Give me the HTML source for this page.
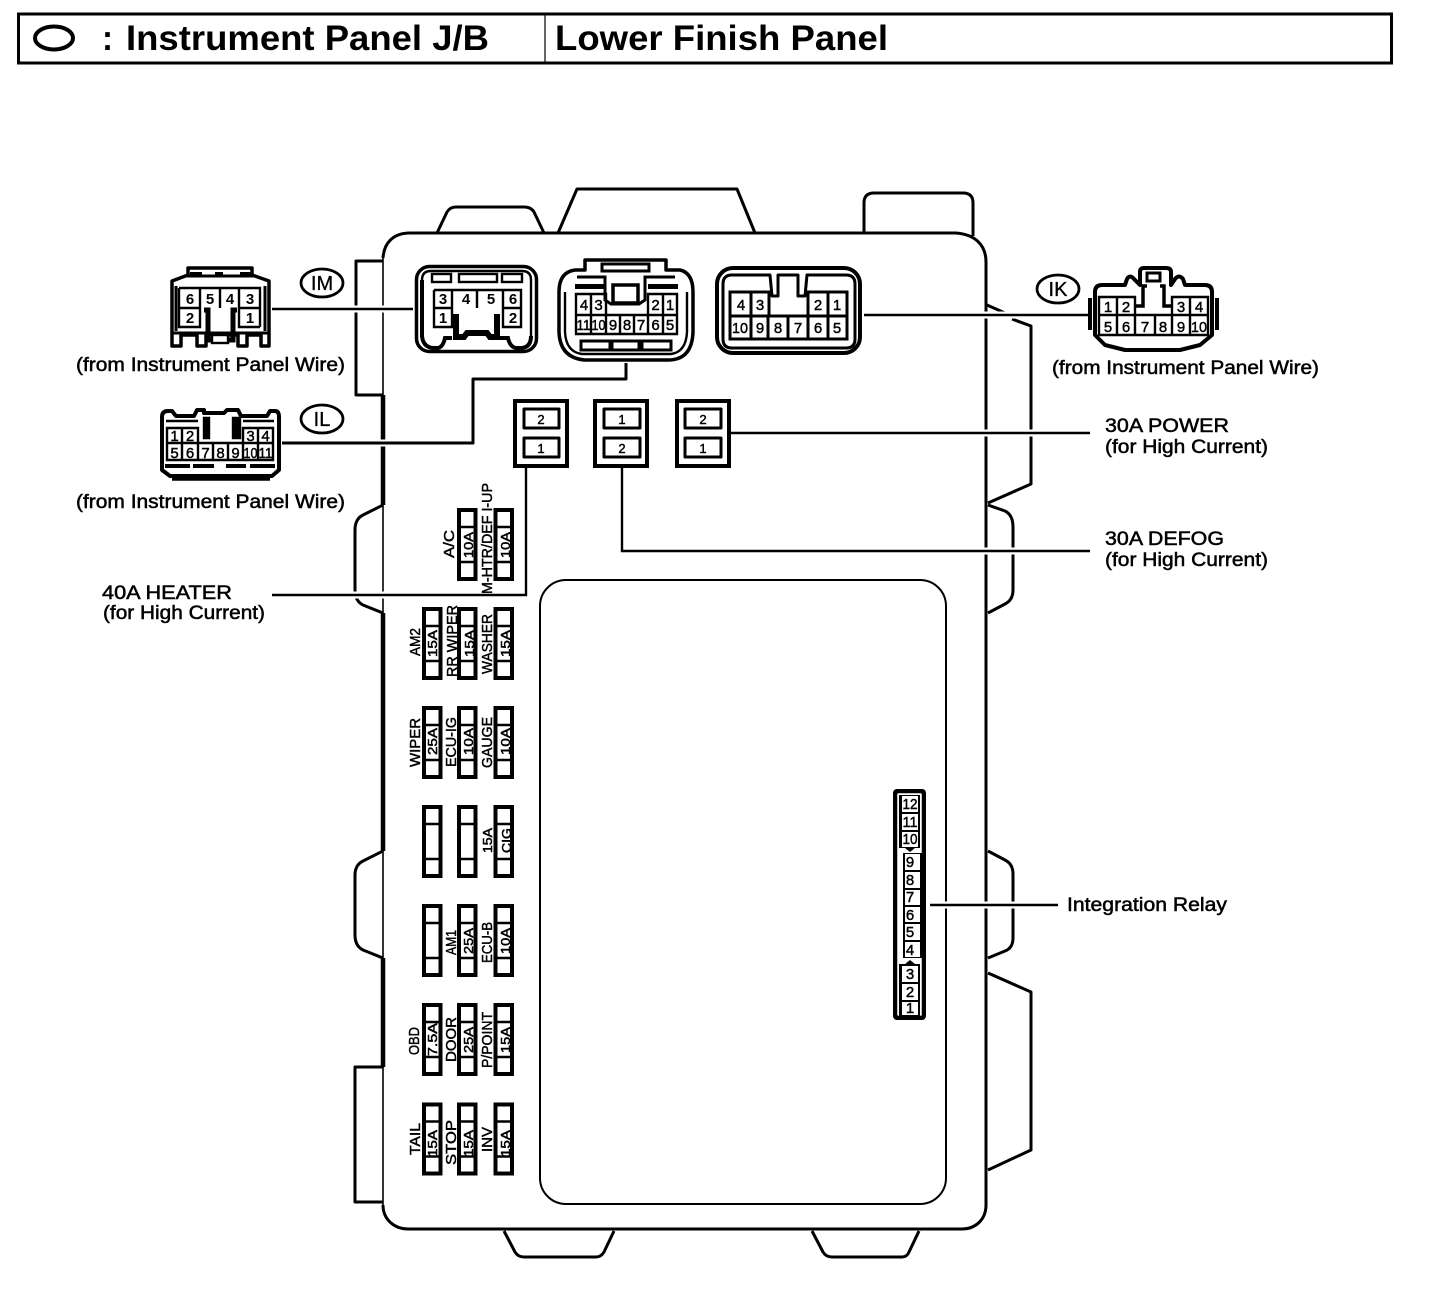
<!DOCTYPE html>
<html><head><meta charset="utf-8"><style>
html,body{margin:0;padding:0;background:#fff}
svg{display:block}
text{font-family:"Liberation Sans",Arial,sans-serif;fill:#000}
.l{font-size:19px;stroke:#000;stroke-width:.5}
.n{font-size:15px;font-weight:bold;text-anchor:middle}
.s{font-size:13px;stroke:#000;stroke-width:.45;text-anchor:middle}
.r{font-size:15px;stroke:#000;stroke-width:.45;text-anchor:middle}
.a{font-size:15px;stroke:#000;stroke-width:.45}
.m{font-size:12.5px;stroke:#000;stroke-width:.5}
.k{fill:none;stroke:#000;stroke-width:3;stroke-linejoin:round}
.t{fill:none;stroke:#000;stroke-width:2.4}
.b{fill:#fff;stroke:#000;stroke-width:4}
.h{fill:none;stroke:#fff;stroke-width:7}
</style></head><body>
<svg width="1440" height="1308" viewBox="0 0 1440 1308" xmlns="http://www.w3.org/2000/svg">
<defs>
<g id="f"><rect x=".5" y=".5" width="16.5" height="69" fill="#fff" stroke="#000" stroke-width="4"/><path d="M0,17.5H17.5M0,52.5H17.5" stroke="#000" stroke-width="2.4"/></g>
</defs>
<rect width="1440" height="1308" fill="#fff"/>

<!-- header -->
<rect x="18.5" y="14" width="1373" height="49" fill="none" stroke="#000" stroke-width="3"/>
<line x1="545" y1="14" x2="545" y2="63" stroke="#000" stroke-width="1.2"/>
<ellipse cx="54" cy="38" rx="19" ry="11.5" fill="none" stroke="#000" stroke-width="4"/>
<text x="102" y="50" font-size="35" font-weight="bold" textLength="11" lengthAdjust="spacingAndGlyphs">:</text>
<text x="126" y="50" font-size="35" font-weight="bold" textLength="363" lengthAdjust="spacingAndGlyphs">Instrument Panel J/B</text>
<text x="555" y="50" font-size="35" font-weight="bold" textLength="333" lengthAdjust="spacingAndGlyphs">Lower Finish Panel</text>

<!-- top tabs -->
<path class="k" d="M437,233L447,212Q450,207 456,207H524Q531,207 534,212L544,233"/>
<path class="k" d="M558,233L577,189H737L755,233"/>
<path class="k" d="M864,233V203Q864,193 874,193H963Q973,193 973,203V236"/>
<!-- bottom tabs -->
<path class="k" d="M504,1231L515,1252Q518,1257 524,1257H596Q601,1257 604,1252L614,1231"/>
<path class="k" d="M812,1231L823,1252Q826,1257 832,1257H902Q907,1257 909,1252L919,1231"/>
<!-- body -->
<path class="k" d="M383,258C384,243 393,233 410,233H955C975,234 986,245 986,262V1205C986,1220 975,1229 962,1229H408C395,1229 383,1220 383,1205" />
<line x1="383" y1="258" x2="383" y2="1205" stroke="#000" stroke-width="1.6"/>
<path d="M383,395V505M383,613V851M383,958V1067" stroke="#000" stroke-width="4.5" fill="none"/>
<!-- left tabs -->
<path class="k" d="M383,261H356V395H383"/>
<path class="k" d="M383,505L363,515Q355,519 355,530V590Q355,601 363,605L383,613"/>
<path class="k" d="M383,851L363,861Q355,865 355,875V935Q355,946 363,950L383,958"/>
<path class="k" d="M383,1067H355V1202H383"/>
<!-- right tabs -->
<path class="k" d="M987,305L1005,313M1012,319L1031,326V484L988,503"/>
<path class="k" d="M988,505L1005,511Q1013,515 1013,527V590Q1013,600 1005,604L988,613"/>
<path class="k" d="M988,851L1005,860Q1013,864 1013,874V938Q1013,948 1005,951L988,958"/>
<path class="k" d="M988,973L1031,992V1150L988,1170"/>
<!-- inner panel -->
<rect x="540" y="580" width="406" height="624" rx="26" fill="#fff" stroke="#000" stroke-width="2"/>

<!-- leader halos -->
<path class="h" d="M272,309H413M282,443H473M864,315H1090M729,433H1090M622,551H1090M272,595H526M930,905H1058"/>
<!-- leaders -->
<path class="t" d="M272,309H413"/>
<path class="k" d="M282,443H473V379H626V363"/>
<path class="t" d="M864,315H1090"/>
<path class="t" d="M729,433H1090"/>
<path class="t" d="M622,467V551H1090"/>
<path class="t" d="M272,595H526V468"/>
<path class="t" d="M930,905H1058"/>

<!-- relay boxes -->
<rect class="b" x="515" y="401" width="52" height="65"/>
<rect class="k" x="524" y="409" width="35" height="19"/><rect class="k" x="524" y="438" width="35" height="19"/>
<text class="s" x="541" y="424">2</text><text class="s" x="541" y="453">1</text>
<rect class="b" x="595" y="401" width="52" height="65"/>
<rect class="k" x="604" y="409" width="36" height="19"/><rect class="k" x="604" y="438" width="36" height="19"/>
<text class="s" x="622" y="424">1</text><text class="s" x="622" y="453">2</text>
<rect class="b" x="677" y="401" width="52" height="65"/>
<rect class="k" x="685" y="409" width="36" height="19"/><rect class="k" x="685" y="438" width="36" height="19"/>
<text class="s" x="703" y="424">2</text><text class="s" x="703" y="453">1</text>

<!-- IM left connector -->
<path d="M172,281L188,275V268H252V275L269,281V346H261V335H247V346H238V335H206V346H197V335H181V346H172Z" fill="#fff" stroke="#000" stroke-width="3.5" stroke-linejoin="round"/>
<path class="k" d="M176,286V331M265,286V331M184,276H256M172,333H269"/>
<path d="M190,272h12v5h-12zM215,272h8v5h-8zM240,272h12v5h-12z" fill="#000"/>
<path d="M179,288H260V308H239V327H260M260,288V327M239,308V327M179,288V327H200V308H179M200,288V308M220,288V308M239,288V308" fill="none" stroke="#000" stroke-width="2.400"/>
<path d="M204,310H208V340H233V310H237" fill="none" stroke="#000" stroke-width="5"/>
<rect x="212" y="335" width="16" height="8" fill="#fff" stroke="#000" stroke-width="2.400"/>
<text class="n" x="190" y="304">6</text><text class="n" x="210" y="304">5</text><text class="n" x="230" y="304">4</text><text class="n" x="250" y="304">3</text>
<text class="n" x="190" y="323">2</text><text class="n" x="250" y="323">1</text>

<!-- IL left connector -->
<path d="M162,417Q162,411 168,411H172L176,416H194L197,410H204V413H224L227,410H238L241,416H267L270,411H275Q279,411 279,417V470L272,476H170L162,470Z" fill="#fff" stroke="#000" stroke-width="4" stroke-linejoin="round"/>
<path d="M172,479H270" stroke="#000" stroke-width="3.500"/>
<path d="M167,428H198V443H167ZM182,428V443M243,428H273V443H243ZM258,428V443M167,443H273V460H167ZM182,443V460M198,443V460M213,443V460M228,443V460M243,443V460M258,443V460" fill="none" stroke="#000" stroke-width="2.400"/>
<path d="M204,418V438H209V418ZM233,418V438H240V418Z" fill="#000" stroke="#000" stroke-width="2.400"/>
<path d="M165,466H190M193,466H214M226,466H246M250,466H275" stroke="#000" stroke-width="4"/>
<path d="M166,421H198M243,421H274" stroke="#000" stroke-width="2.400"/>
<text class="r" x="174.500" y="441">1</text><text class="r" x="190" y="441">2</text><text class="r" x="250.500" y="441">3</text><text class="r" x="265.500" y="441">4</text>
<text class="r" x="174.500" y="458">5</text><text class="r" x="190" y="458">6</text><text class="r" x="205.500" y="458">7</text><text class="r" x="220.500" y="458">8</text><text class="r" x="235.500" y="458">9</text><text class="r" x="250.500" y="458" textLength="14" lengthAdjust="spacingAndGlyphs">10</text><text class="r" x="265.500" y="458" textLength="14" lengthAdjust="spacingAndGlyphs">11</text>

<!-- IM panel connector -->
<rect x="416.500" y="266.500" width="120" height="85" rx="13" fill="#fff" stroke="#000" stroke-width="3.500"/>
<path d="M422,280Q422,271 431,271H522Q531,271 531,280V336" fill="none" stroke="#000" stroke-width="2.400"/>
<path d="M422,280V336Q423,347 433,348H438Q443,347 445,338H452M500,338H508Q510,347 516,348H522Q531,347 531,336" fill="none" stroke="#000" stroke-width="4"/>
<rect x="432" y="274" width="19" height="8" fill="none" stroke="#000" stroke-width="2.400"/>
<rect x="459" y="274" width="38" height="8" fill="none" stroke="#000" stroke-width="2.400"/>
<rect x="502" y="274" width="20" height="8" fill="none" stroke="#000" stroke-width="2.400"/>
<path d="M434,290H521V308H503V327H521V290M434,290V327H452V308H434M452,290V308M477,290V308M503,290V308" fill="none" stroke="#000" stroke-width="2.400"/>
<path d="M456,314V337H464L467,333H487L490,337H497V314" fill="none" stroke="#000" stroke-width="6"/>
<text class="n" x="443" y="304" font-size="14">3</text><text class="n" x="466" y="304">4</text><text class="n" x="491" y="304">5</text><text class="n" x="513" y="304">6</text>
<text class="n" x="443" y="323">1</text><text class="n" x="513" y="323">2</text>

<!-- center connector -->
<path d="M585,270V260H666V270H680Q693,273 693,292V332Q692,360 668,360H585Q560,358 559,332V292Q559,272 575,270Z" fill="#fff" stroke="#000" stroke-width="3.500" stroke-linejoin="round"/>
<path d="M565,292V332Q566,352 582,354H671Q686,352 687,332V292" fill="none" stroke="#000" stroke-width="2.400"/>
<rect x="602" y="264" width="47" height="7" fill="none" stroke="#000" stroke-width="3"/>
<path d="M577,277H605V300L611,304H639L645,300V277H675" fill="none" stroke="#000" stroke-width="3"/>
<rect x="575" y="284" width="30" height="5" fill="#000"/><rect x="648" y="284" width="30" height="5" fill="#000"/>
<rect x="613" y="285" width="25" height="18" fill="none" stroke="#000" stroke-width="3.500"/>
<path d="M576,294H606V315H576ZM591,294V315M648,294H677V315H648ZM663,294V315M576,315H677V334H576ZM591,315V334M606,315V334M620,315V334M634,315V334M648,315V334M663,315V334" fill="none" stroke="#000" stroke-width="2.400"/>
<rect x="581" y="341" width="29" height="9" fill="#fff" stroke="#000" stroke-width="3"/><rect x="612" y="341" width="27" height="9" fill="#fff" stroke="#000" stroke-width="3"/><rect x="642" y="341" width="29" height="9" fill="#fff" stroke="#000" stroke-width="3"/>
<text class="r" x="584" y="310">4</text><text class="r" x="598.500" y="310">3</text><text class="r" x="655.500" y="310">2</text><text class="r" x="670" y="310">1</text>
<text class="r" x="583.500" y="330" textLength="14" lengthAdjust="spacingAndGlyphs">11</text><text class="r" x="598.500" y="330" textLength="14" lengthAdjust="spacingAndGlyphs">10</text><text class="r" x="613" y="330">9</text><text class="r" x="627" y="330">8</text><text class="r" x="641" y="330">7</text><text class="r" x="655.500" y="330">6</text><text class="r" x="670" y="330">5</text>

<!-- right connector -->
<rect x="717" y="268" width="143" height="85" rx="16" fill="#fff" stroke="#000" stroke-width="4"/>
<path d="M723,284Q723,275 732,275H770L772,296H778V275H798V296H805L807,275H846Q855,275 855,284V339Q855,348 846,348H732Q723,348 723,339Z" fill="none" stroke="#000" stroke-width="3" stroke-linejoin="round"/>
<path d="M730,292H769V316H730ZM751,292V316M808,292H847V316H808ZM828,292V316M730,316H847V339H730ZM751,316V339M768,316V339M788,316V339M808,316V339M828,316V339" fill="none" stroke="#000" stroke-width="3"/>
<text class="r" x="741" y="310">4</text><text class="r" x="760" y="310">3</text><text class="r" x="818" y="310">2</text><text class="r" x="837" y="310">1</text>
<text class="r" x="740" y="333" textLength="16" lengthAdjust="spacingAndGlyphs">10</text><text class="r" x="760" y="333">9</text><text class="r" x="778" y="333">8</text><text class="r" x="798" y="333">7</text><text class="r" x="818" y="333">6</text><text class="r" x="837" y="333">5</text>

<!-- IK connector -->
<path d="M1095,292Q1095,285 1102,285H1125L1127,279Q1130,274 1134,279L1140,285V272Q1140,268 1144,268H1166Q1171,268 1171,272V285L1175,279Q1179,274 1183,279L1185,285H1205Q1212,285 1212,292V335L1200,345L1180,350H1125L1105,345L1095,335Z" fill="#fff" stroke="#000" stroke-width="4" stroke-linejoin="round"/>
<path d="M1090,298V330M1217,298V330" stroke="#000" stroke-width="4" fill="none"/>
<path d="M1099,297H1135V315H1099ZM1117,297V315M1172,297H1208V315H1172ZM1190,297V315M1099,315H1208V335H1099ZM1117,315V335M1135,315V335M1155,315V335M1172,315V335M1190,315V335" fill="none" stroke="#000" stroke-width="2.400"/>
<path d="M1135,306H1143V286H1147M1172,306H1164V286H1160" fill="none" stroke="#000" stroke-width="3.500"/>
<rect x="1147" y="273" width="13" height="8" fill="none" stroke="#000" stroke-width="3"/>
<text class="r" x="1108" y="312">1</text><text class="r" x="1126" y="312">2</text><text class="r" x="1181" y="312">3</text><text class="r" x="1199" y="312">4</text>
<text class="r" x="1108" y="332">5</text><text class="r" x="1126" y="332">6</text><text class="r" x="1145" y="332">7</text><text class="r" x="1163" y="332">8</text><text class="r" x="1181" y="332">9</text><text class="r" x="1199" y="332" textLength="16" lengthAdjust="spacingAndGlyphs">10</text>

<!-- integration relay connector -->
<rect x="893" y="789" width="33" height="231" rx="4" fill="#000"/>
<rect x="896.500" y="792.500" width="26" height="224" rx="2" fill="#fff" stroke="#000" stroke-width="1.500"/>
<path d="M899,795V848H905L910,852L915,848H920V795M899,964H905L910,960L915,964H920V1016H899Z" fill="#000"/>
<path d="M903,853H922V958H903Z" fill="#000"/>
<g fill="#fff">
<rect x="902" y="796" width="16" height="16"/><rect x="902" y="814" width="16" height="16"/><rect x="902" y="832" width="16" height="15"/>
<rect x="905" y="854" width="15" height="16"/><rect x="905" y="872" width="15" height="16"/><rect x="905" y="890" width="15" height="15"/><rect x="905" y="907" width="15" height="15"/><rect x="905" y="924" width="15" height="16"/><rect x="905" y="942" width="15" height="15"/>
<rect x="902" y="966" width="16" height="16"/><rect x="902" y="984" width="16" height="16"/><rect x="902" y="1002" width="16" height="13"/>
</g>
<text class="r" x="910" y="809" textLength="15" lengthAdjust="spacingAndGlyphs">12</text>
<text class="r" x="910" y="827" textLength="15" lengthAdjust="spacingAndGlyphs">11</text>
<text class="r" x="910" y="844" textLength="15" lengthAdjust="spacingAndGlyphs">10</text>
<text class="r" x="910" y="867">9</text>
<text class="r" x="910" y="885">8</text>
<text class="r" x="910" y="902">7</text>
<text class="r" x="910" y="920">6</text>
<text class="r" x="910" y="937">5</text>
<text class="r" x="910" y="955">4</text>
<text class="r" x="910" y="979">3</text>
<text class="r" x="910" y="997">2</text>
<text class="r" x="910" y="1013">1</text>

<!-- fuses -->
<use href="#f" x="458.500" y="509.500"/><use href="#f" x="495" y="509.500"/>
<use href="#f" x="423.500" y="608.500"/><use href="#f" x="458.500" y="608.500"/><use href="#f" x="495" y="608.500"/>
<use href="#f" x="423.500" y="707.500"/><use href="#f" x="458.500" y="707.500"/><use href="#f" x="495" y="707.500"/>
<use href="#f" x="423.500" y="806.500"/><use href="#f" x="458.500" y="806.500"/><use href="#f" x="495" y="806.500"/>
<use href="#f" x="423.500" y="905.500"/><use href="#f" x="458.500" y="905.500"/><use href="#f" x="495" y="905.500"/>
<use href="#f" x="423.500" y="1004.500"/><use href="#f" x="458.500" y="1004.500"/><use href="#f" x="495" y="1004.500"/>
<use href="#f" x="423.500" y="1104"/><use href="#f" x="458.500" y="1104"/><use href="#f" x="495" y="1104"/>

<!-- fuse labels -->
<text class="a" transform="translate(454,558) rotate(-90)" textLength="28" lengthAdjust="spacingAndGlyphs">A/C</text>
<text class="m" transform="translate(473,558) rotate(-90)" textLength="26" lengthAdjust="spacingAndGlyphs">10A</text>
<text class="a" transform="translate(492,594) rotate(-90)" textLength="111" lengthAdjust="spacingAndGlyphs">M-HTR/DEF I-UP</text>
<text class="m" transform="translate(510,558) rotate(-90)" textLength="26" lengthAdjust="spacingAndGlyphs">10A</text>

<text class="a" transform="translate(420,656) rotate(-90)" textLength="28" lengthAdjust="spacingAndGlyphs">AM2</text>
<text class="m" transform="translate(437,657) rotate(-90)" textLength="27" lengthAdjust="spacingAndGlyphs">15A</text>
<text class="a" transform="translate(457,677) rotate(-90)" textLength="72" lengthAdjust="spacingAndGlyphs">RR WIPER</text>
<text class="m" transform="translate(474,657) rotate(-90)" textLength="27" lengthAdjust="spacingAndGlyphs">15A</text>
<text class="a" transform="translate(492,674) rotate(-90)" textLength="60" lengthAdjust="spacingAndGlyphs">WASHER</text>
<text class="m" transform="translate(510,657) rotate(-90)" textLength="27" lengthAdjust="spacingAndGlyphs">15A</text>

<text class="a" transform="translate(420,767) rotate(-90)" textLength="49" lengthAdjust="spacingAndGlyphs">WIPER</text>
<text class="m" transform="translate(437,755) rotate(-90)" textLength="27" lengthAdjust="spacingAndGlyphs">25A</text>
<text class="a" transform="translate(456,767) rotate(-90)" textLength="50" lengthAdjust="spacingAndGlyphs">ECU-IG</text>
<text class="m" transform="translate(473,755) rotate(-90)" textLength="27" lengthAdjust="spacingAndGlyphs">10A</text>
<text class="a" transform="translate(492,768) rotate(-90)" textLength="51" lengthAdjust="spacingAndGlyphs">GAUGE</text>
<text class="m" transform="translate(510,755) rotate(-90)" textLength="27" lengthAdjust="spacingAndGlyphs">10A</text>

<text class="m" transform="translate(492,853) rotate(-90)" textLength="25" lengthAdjust="spacingAndGlyphs">15A</text>
<text class="m" transform="translate(511,853) rotate(-90)" textLength="25" lengthAdjust="spacingAndGlyphs">CIG</text>

<text class="a" transform="translate(456,955) rotate(-90)" textLength="25" lengthAdjust="spacingAndGlyphs">AM1</text>
<text class="m" transform="translate(473,954) rotate(-90)" textLength="26" lengthAdjust="spacingAndGlyphs">25A</text>
<text class="a" transform="translate(492,963) rotate(-90)" textLength="41" lengthAdjust="spacingAndGlyphs">ECU-B</text>
<text class="m" transform="translate(510,954) rotate(-90)" textLength="26" lengthAdjust="spacingAndGlyphs">10A</text>

<text class="a" transform="translate(419,1055) rotate(-90)" textLength="28" lengthAdjust="spacingAndGlyphs">OBD</text>
<text class="m" transform="translate(437,1056) rotate(-90)" textLength="33" lengthAdjust="spacingAndGlyphs">7.5A</text>
<text class="a" transform="translate(456,1062) rotate(-90)" textLength="45" lengthAdjust="spacingAndGlyphs">DOOR</text>
<text class="m" transform="translate(473,1053) rotate(-90)" textLength="26" lengthAdjust="spacingAndGlyphs">25A</text>
<text class="a" transform="translate(492,1068) rotate(-90)" textLength="56" lengthAdjust="spacingAndGlyphs">P/POINT</text>
<text class="m" transform="translate(510,1053) rotate(-90)" textLength="26" lengthAdjust="spacingAndGlyphs">15A</text>

<text class="a" transform="translate(420,1155) rotate(-90)" textLength="32" lengthAdjust="spacingAndGlyphs">TAIL</text>
<text class="m" transform="translate(437,1157) rotate(-90)" textLength="27" lengthAdjust="spacingAndGlyphs">15A</text>
<text class="a" transform="translate(456,1165) rotate(-90)" textLength="45" lengthAdjust="spacingAndGlyphs">STOP</text>
<text class="m" transform="translate(473,1157) rotate(-90)" textLength="27" lengthAdjust="spacingAndGlyphs">15A</text>
<text class="a" transform="translate(492,1152) rotate(-90)" textLength="25" lengthAdjust="spacingAndGlyphs">INV</text>
<text class="m" transform="translate(510,1157) rotate(-90)" textLength="27" lengthAdjust="spacingAndGlyphs">15A</text>

<!-- bubbles -->
<ellipse cx="322" cy="283" rx="21" ry="14" fill="#fff" stroke="#000" stroke-width="2.800"/>
<text x="322" y="290" font-size="20" text-anchor="middle" stroke="#000" stroke-width=".3">IM</text>
<ellipse cx="322" cy="419" rx="21" ry="14" fill="#fff" stroke="#000" stroke-width="2.800"/>
<text x="322" y="426" font-size="20" text-anchor="middle" stroke="#000" stroke-width=".3">IL</text>
<ellipse cx="1058" cy="289" rx="21" ry="14" fill="#fff" stroke="#000" stroke-width="2.800"/>
<text x="1058" y="296" font-size="20" text-anchor="middle" stroke="#000" stroke-width=".3">IK</text>

<!-- side labels -->
<text class="l" x="76" y="371" textLength="269" lengthAdjust="spacingAndGlyphs">(from Instrument Panel Wire)</text>
<text class="l" x="76" y="508" textLength="269" lengthAdjust="spacingAndGlyphs">(from Instrument Panel Wire)</text>
<text class="l" x="1052" y="374" textLength="267" lengthAdjust="spacingAndGlyphs">(from Instrument Panel Wire)</text>
<text class="l" x="1105" y="432" textLength="124" lengthAdjust="spacingAndGlyphs">30A POWER</text>
<text class="l" x="1105" y="453" textLength="163" lengthAdjust="spacingAndGlyphs">(for High Current)</text>
<text class="l" x="1105" y="545" textLength="119" lengthAdjust="spacingAndGlyphs">30A DEFOG</text>
<text class="l" x="1105" y="566" textLength="163" lengthAdjust="spacingAndGlyphs">(for High Current)</text>
<text class="l" x="102" y="599" textLength="130" lengthAdjust="spacingAndGlyphs">40A HEATER</text>
<text class="l" x="103" y="619" textLength="162" lengthAdjust="spacingAndGlyphs">(for High Current)</text>
<text class="l" x="1067" y="911" textLength="160" lengthAdjust="spacingAndGlyphs">Integration Relay</text>
</svg>
</body></html>
